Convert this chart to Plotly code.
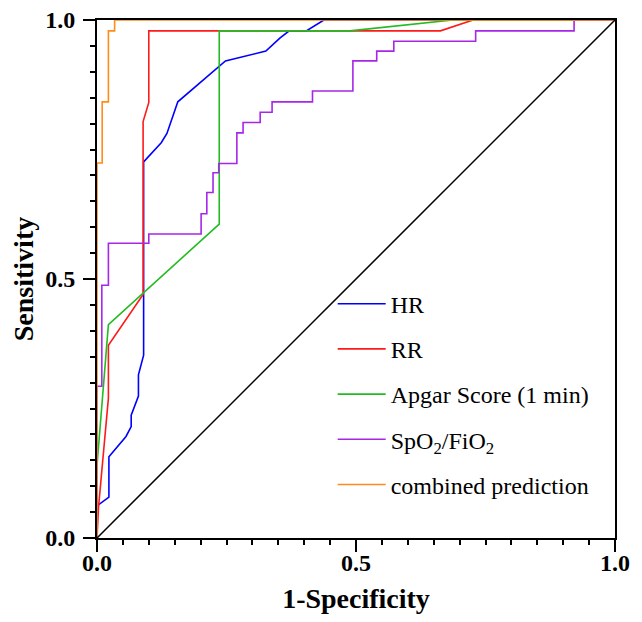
import plotly.graph_objects as go

# ROC curve points (1-specificity, sensitivity)
hr_x = [0, 0, 0.023, 0.023, 0.056, 0.066, 0.066, 0.080, 0.080, 0.09, 0.09, 0.124, 0.135, 0.156, 0.248, 0.326, 0.353, 0.371, 0.404, 0.438, 1.0]
hr_y = [0, 0.062, 0.079, 0.157, 0.196, 0.215, 0.237, 0.274, 0.315, 0.353, 0.726, 0.763, 0.781, 0.842, 0.921, 0.940, 0.965, 0.979, 0.979, 1.0, 1.0]

rr_x = [0, 0.003, 0.022, 0.022, 0.089, 0.089, 0.10, 0.10, 0.663, 0.726, 1.0]
rr_y = [0, 0.06, 0.27, 0.372, 0.47, 0.804, 0.841, 0.979, 0.979, 1.0, 1.0]

apgar_x = [0, 0, 0.022, 0.236, 0.236, 0.488, 0.687, 1.0]
apgar_y = [0, 0.14, 0.412, 0.606, 0.979, 0.979, 1.0, 1.0]

spo2_x = [0, 0, 0.0093, 0.0093, 0.022, 0.022, 0.10, 0.10, 0.201, 0.201, 0.212, 0.212, 0.224, 0.224,
          0.235, 0.235, 0.270, 0.270, 0.282, 0.282, 0.315, 0.315, 0.338, 0.338, 0.416, 0.416,
          0.494, 0.494, 0.540, 0.540, 0.573, 0.573, 0.731, 0.731, 0.921, 0.921, 1.0]
spo2_y = [0, 0.293, 0.293, 0.488, 0.488, 0.569, 0.569, 0.587, 0.587, 0.626, 0.626, 0.667, 0.667, 0.705,
          0.705, 0.723, 0.723, 0.782, 0.782, 0.802, 0.802, 0.822, 0.822, 0.842, 0.842, 0.863,
          0.863, 0.921, 0.921, 0.940, 0.940, 0.959, 0.959, 0.979, 0.979, 1.0, 1.0]

comb_x = [0, 0, 0.01, 0.01, 0.022, 0.022, 0.034, 0.034, 1.0]
comb_y = [0, 0.724, 0.724, 0.842, 0.842, 0.979, 0.979, 1.0, 1.0]

ref_x = [0, 1]
ref_y = [0, 1]

series = [
    ("HR", hr_x, hr_y, "#0000ff"),
    ("RR", rr_x, rr_y, "#ff1a1a"),
    ("Apgar Score (1 min)", apgar_x, apgar_y, "#22bb22"),
    ("SpO<sub>2</sub>/FiO<sub>2</sub>", spo2_x, spo2_y, "#a726e8"),
    ("combined prediction", comb_x, comb_y, "#ff8c1a"),
]

fig = go.Figure()
for i, (name, xs, ys, col) in enumerate(series):
    fig.add_trace(go.Scatter(x=xs, y=ys, mode="lines", name=name, legendgroup=str(i),
                             line=dict(color=col, width=1.6)))
# diagonal reference line sits on the overlay axes that carry the minor ticks
fig.add_trace(go.Scatter(x=ref_x, y=ref_y, mode="lines", line=dict(color="black", width=1.5),
                         showlegend=False, hoverinfo="skip", xaxis="x2", yaxis="y2"))

serif = "Liberation Serif"

major = dict(
    range=[0, 1], showgrid=False, zeroline=False, automargin=False,
    showline=True, linecolor="black", linewidth=2, mirror=True,
    ticks="outside", ticklen=12, tickwidth=2, tickcolor="black",
    tickmode="linear", tick0=0, dtick=0.5, tickformat=".1f",
    ticklabeloverflow="allow",
    tickfont=dict(family=serif, size=24, color="black", weight="bold"),
)
minor = dict(
    range=[0, 1], showgrid=False, zeroline=False, automargin=False,
    showline=False, showticklabels=False,
    ticks="outside", ticklen=6, tickwidth=2, tickcolor="black",
    tickmode="linear", tick0=0, dtick=0.05,
)

fig.update_layout(
    width=626, height=606,
    margin=dict(l=89, r=19, t=12, b=76),
    plot_bgcolor="white", paper_bgcolor="white",
    font=dict(family=serif, color="black"),
    showlegend=True,
    xaxis=dict(**major, ticklabelstandoff=-10,
               title=dict(text="<b>1-Specificity</b>", standoff=30,
                          font=dict(family=serif, size=28, color="black"))),
    yaxis=dict(**major, ticklabelstandoff=3,
               title=dict(text="<b>Sensitivity</b>", standoff=10,
                          font=dict(family=serif, size=28, color="black"))),
    xaxis2=dict(**minor, overlaying="x", anchor="y2", side="bottom"),
    yaxis2=dict(**minor, overlaying="y", anchor="x2", side="left"),
    legend=dict(x=0.455, y=0.495, xanchor="left", yanchor="top",
                traceorder="grouped", tracegroupgap=11, itemwidth=48,
                font=dict(family=serif, size=24, color="black"),
                bgcolor="rgba(0,0,0,0)"),
)

fig.write_html("out.html")
